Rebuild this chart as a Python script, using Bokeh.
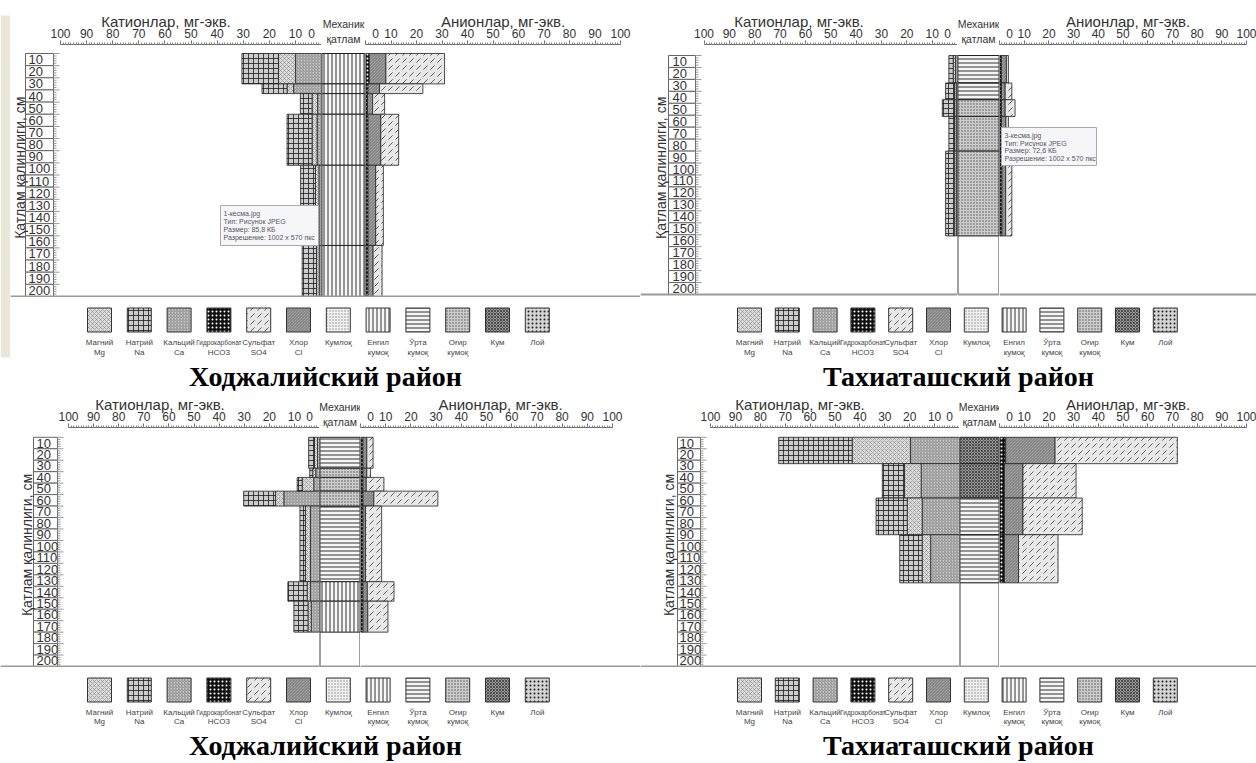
import numpy as np
from bokeh.plotting import figure
from bokeh.models import (Range1d, SingleIntervalTicker, FixedTicker, Span,
                          BoxAnnotation, Label, ColumnDataSource)
from bokeh.layouts import row, column
from bokeh.embed import file_html
from bokeh.resources import INLINE
from bokeh.core.properties import value

# ---------------- data ----------------
titles = ["Ходжалийский район", "Тахиаташский район",
          "Ходжалийский район", "Тахиаташский район"]

legend_keys = ["Mg", "Na", "Ca", "HCO3", "SO4", "Cl",
               "Кумлоқ", "Енгил қумоқ", "Ўрта қумоқ", "Оғир қумоқ", "Кум", "Лой"]
legend_line1 = ["Магний", "Натрий", "Кальций", "Гидрокарбонат", "Сульфат", "Хлор",
                "Кумлоқ", "Енгил", "Ўрта", "Оғир", "Кум", "Лой"]
legend_line2 = ["Mg", "Na", "Ca", "HCO3", "SO4", "Cl",
                "", "кумоқ", "кумоқ", "кумоқ", "", ""]

depth_ticks = list(range(10, 201, 10))
y_title = "Қатлам қалинлиги, см"
cation_title = "Катионлар, мг-экв."
anion_title = "Анионлар, мг-экв."
mech_title = "Механик\nқатлам"

# panel 1 (top-left)
p1_top = [0, 25, 33, 50, 92, 158]
p1_bot = [25, 33, 50, 92, 158, 200]
p1_ca = [10.0, 10.7, 1.5, 1.7, 1.0, 0.9]
p1_mg = [6.5, 2.5, 2.1, 1.9, 1.3, 1.0]
p1_na = [14.0, 9.6, 4.5, 9.6, 5.7, 5.5]
p1_hco3 = [1.5, 1.0, 0.8, 1.0, 1.0, 1.0]
p1_cl = [6.5, 4.5, 2.0, 5.0, 3.0, 2.0]
p1_so4 = [23.0, 17.0, 4.7, 7.0, 3.0, 3.5]
p1_mech = ["Енгил қумоқ"] * 6

# panel 2 (top-right)
p2_top = [0, 23, 37, 51, 80]
p2_bot = [23, 37, 51, 80, 151]
p2_ca = [0.8, 0.5, 0.5, 0.5, 0.5]
p2_mg = [0.9, 0.7, 0.7, 0.7, 0.8]
p2_na = [1.7, 3.5, 4.8, 2.2, 3.4]
p2_hco3 = [0.8, 0.8, 0.8, 0.8, 1.0]
p2_cl = [2.0, 1.5, 1.5, 1.8, 1.5]
p2_so4 = [0.8, 2.7, 4.0, 1.0, 2.5]
p2_mech = ["Ўрта қумоқ", "Ўрта қумоқ", "Оғир қумоқ", "Оғир қумоқ", "Оғир қумоқ"]

# panel 3 (bottom-left)
p3_top = [0, 27, 35, 47, 60, 126, 143]
p3_bot = [27, 35, 47, 60, 126, 143, 170]
p3_ca = [0.8, 1.5, 2.3, 14.2, 3.6, 3.6, 3.3]
p3_mg = [1.2, 1.2, 4.6, 3.3, 2.0, 1.3, 1.3]
p3_na = [2.3, 1.2, 2.0, 12.7, 2.2, 7.7, 5.6]
p3_hco3 = [1.0, 1.0, 1.0, 1.0, 1.0, 1.0, 1.0]
p3_cl = [1.5, 1.5, 1.3, 4.3, 1.0, 1.7, 1.9]
p3_so4 = [2.5, 1.5, 7.0, 25.4, 6.4, 10.6, 8.0]
p3_mech = ["Ўрта қумоқ", "Оғир қумоқ", "Оғир қумоқ", "Оғир қумоқ",
           "Ўрта қумоқ", "Енгил қумоқ", "Енгил қумоқ"]

# panel 4 (bottom-right)
p4_top = [0, 23, 53, 85]
p4_bot = [23, 53, 85, 127]
p4_ca = [19.7, 15.4, 15.0, 11.6]
p4_mg = [23.4, 6.7, 6.0, 3.4]
p4_na = [29.5, 8.9, 12.5, 9.0]
p4_hco3 = [2.5, 2.0, 2.0, 2.0]
p4_cl = [20.0, 7.5, 7.5, 5.7]
p4_so4 = [49.5, 21.5, 24.0, 16.0]
p4_mech = ["Кум", "Кум", "Ўрта қумоқ", "Ўрта қумоқ"]

tip1_lines = ["1-кесма.jpg", "Тип: Рисунок JPEG", "Размер: 85,8 КБ",
              "Разрешение: 1002 x 570 пкс"]
tip2_lines = ["3-кесма.jpg", "Тип: Рисунок JPEG", "Размер: 72,6 КБ",
              "Разрешение: 1002 x 570 пкс"]

# ---------------- styles ----------------
FONT = "Liberation Sans"
SERIF = "Liberation Serif"
STYLE = {
    "Mg": ("#dcdcdc", "diagonal_cross", "#777777", 4, 0.5),
    "Na": ("#cccccc", "cross", "#1a1a1a", 5, 0.8),
    "Ca": ("#c8c8c8", "right_diagonal_line", "#666666", 3, 0.6),
    "HCO3": ("#111111", "dot", "#ffffff", 4, 2.2),
    "SO4": ("#e8e8e8", "right_diagonal_dash", "#3a3a3a", 7, 0.8),
    "Cl": ("#b8b8b8", "left_diagonal_line", "#5a5a5a", 3, 0.7),
    "Кумлоқ": ("#f0f0f0", "dot", "#8a8a8a", 3, 1.0),
    "Енгил қумоқ": ("#f7f7f7", "vertical_line", "#1a1a1a", 4, 0.9),
    "Ўрта қумоқ": ("#f5f5f5", "horizontal_line", "#1a1a1a", 4, 0.9),
    "Оғир қумоқ": ("#cccccc", "dot", "#555555", 3, 1.0),
    "Кум": ("#9a9a9a", "diagonal_cross", "#2a2a2a", 3, 0.7),
    "Лой": ("#d4d4d4", "dot", "#222222", 4, 1.2),
}

def hatch_kw(key):
    f, hp, hc, hs, hw = STYLE[key]
    return dict(fill_color=f, hatch_pattern=hp, hatch_color=hc,
                hatch_scale=hs, hatch_weight=hw)

# geometry in window pixels
GEO = [
    dict(left=10, c100=60, c0=321, a0=365, a100=620, right=640,
         fig_top=0, frame_top=44, d0=53, d200=296, frame_bot=297, leg_bot=392,
         box_l=25, box_r=53, text_x=28, title_x=19, strip=True,
         leg_x0=99, leg_dx=39.8, sq_y=319.5, lab1=342, lab2=352, ttl_x=325, ttl_y=376,
         tip=(220, 318, 205, 245)),
    dict(left=640, c100=703.5, c0=957, a0=999, a100=1246, right=1256,
         fig_top=0, frame_top=44, d0=55, d200=294, frame_bot=297, leg_bot=392,
         box_l=668, box_r=695, text_x=672, title_x=660, strip=False,
         leg_x0=749, leg_dx=37.8, sq_y=319.5, lab1=342, lab2=352, ttl_x=958, ttl_y=376,
         tip=(1001, 1096, 127, 165)),
    dict(left=0, c100=68, c0=319, a0=360, a100=612, right=640,
         fig_top=392, frame_top=422, d0=432, d200=666, frame_bot=667, leg_bot=763,
         box_l=33, box_r=57, text_x=36, title_x=26, strip=False,
         leg_x0=99, leg_dx=39.8, sq_y=689.5, lab1=712, lab2=721, ttl_x=325, ttl_y=745,
         tip=None),
    dict(left=640, c100=710, c0=959, a0=999, a100=1246, right=1256,
         fig_top=392, frame_top=422, d0=432, d200=666, frame_bot=667, leg_bot=763,
         box_l=677, box_r=700, text_x=679, title_x=668, strip=False,
         leg_x0=749, leg_dx=37.8, sq_y=689.5, lab1=712, lab2=721, ttl_x=958, ttl_y=745,
         tip=None),
]


def base_fig(width, height, x_range, y_range, top_border, axis_above):
    p = figure(width=width, height=height, x_range=x_range, y_range=y_range,
               toolbar_location=None, output_backend="svg",
               x_axis_location="above" if axis_above else None,
               y_axis_location=None,
               min_border_left=0, min_border_right=0, min_border_bottom=0,
               min_border_top=top_border, outline_line_color=None,
               background_fill_color="white", border_fill_color="white")
    p.grid.grid_line_color = None
    return p


def ruler_axis(ax, title, overrides):
    ax.ticker = SingleIntervalTicker(interval=10, num_minor_ticks=10)
    ax.bounds = (0, 100)
    ax.major_tick_out = 4
    ax.major_tick_in = 0
    ax.minor_tick_out = 2
    ax.minor_tick_in = 0
    ax.axis_line_color = "#666666"
    ax.major_tick_line_color = "#666666"
    ax.minor_tick_line_color = "#888888"
    ax.major_label_text_font = FONT
    ax.major_label_text_font_size = "12px"
    ax.major_label_text_color = "#333333"
    ax.major_label_standoff = 0
    ax.major_label_overrides = overrides
    ax.axis_label = title
    ax.axis_label_text_font = FONT
    ax.axis_label_text_font_size = "15px"
    ax.axis_label_text_font_style = "normal"
    ax.axis_label_text_color = "#333333"
    ax.axis_label_standoff = -6


def make_panel(data, g, title, tip_lines):
    tops = np.array(data["top"], dtype=float)
    bots = np.array(data["bot"], dtype=float)
    dmax = depth_ticks[-1]
    sy = (g["d200"] - g["d0"]) / dmax
    yr = Range1d(start=dmax + (g["frame_bot"] - g["d200"]) / sy,
                 end=-(g["d0"] - g["frame_top"]) / sy)
    bt = g["frame_top"] - g["fig_top"]
    H = g["frame_bot"] - g["fig_top"]

    # ---- cation side (with the depth-label column at its left) ----
    wc = g["c0"] - g["left"]
    sxc = (g["c0"] - g["c100"]) / 100.0
    ux = lambda px: (g["c0"] - px) / sxc
    pc = base_fig(wc, H, Range1d(start=ux(g["left"]), end=0), yr, bt, True)
    ruler_axis(pc.xaxis[0], cation_title, {0: "0\u00a0\u00a0"})
    tk = np.array(depth_ticks, dtype=float)
    pc.quad(left=ux(g["box_l"]), right=ux(g["box_r"]), top=tk - 10, bottom=tk,
            fill_color="white", line_color="#666666", line_width=1)
    pc.text(x=ux(g["text_x"]), y=tk - 5, text=[str(int(t)) for t in tk],
            text_font=value(FONT), text_font_size="13px", text_color="#333333",
            text_align="left", text_baseline="middle")
    minor = np.arange(0, dmax + 1, 2)
    pc.segment(x0=ux(g["box_r"]), y0=minor,
               x1=ux(g["box_r"] + np.where(minor % 10 == 0, 6, 3)), y1=minor,
               line_color="#999999", line_width=1)
    pc.text(x=[ux(g["title_x"])], y=[dmax * 0.47], text=[y_title], angle=np.pi / 2,
            text_font=value(FONT), text_font_size="14px", text_color="#333333",
            text_align="center", text_baseline="middle")
    inner = np.zeros(len(tops))
    for key in ["Ca", "Mg", "Na"]:
        outer = inner + np.array(data[key])
        pc.quad(left=inner, right=outer, top=tops, bottom=bots,
                line_color="#222222", line_width=0.8, **hatch_kw(key))
        inner = outer
    pc.add_layout(Span(location=dmax, dimension="width", line_color="#999999", line_width=2))

    # ---- mechanical column ----
    wm = g["a0"] - g["c0"]
    pm = base_fig(wm, H, Range1d(0, 1), yr, bt, True)
    axm = pm.xaxis[0]
    axm.ticker = FixedTicker(ticks=[])
    axm.axis_line_color = None
    axm.major_tick_out = 0
    axm.minor_tick_out = 0
    axm.axis_label = mech_title
    axm.axis_label_text_font = FONT
    axm.axis_label_text_font_size = "10.5px"
    axm.axis_label_text_font_style = "normal"
    axm.axis_label_text_color = "#333333"
    axm.axis_label_standoff = 0
    mech = list(data["mech"])
    for key in dict.fromkeys(mech):
        idx = [i for i, m in enumerate(mech) if m == key]
        pm.quad(left=0, right=1, top=tops[idx], bottom=bots[idx],
                line_color="#222222", line_width=1, **hatch_kw(key))
    pm.segment(x0=[0, 1], y0=[0, 0], x1=[0, 1], y1=[dmax, dmax],
               line_color="#444444", line_width=2)
    pm.add_layout(Span(location=dmax, dimension="width", line_color="#999999", line_width=2))

    # ---- anion side ----
    wa = g["right"] - g["a0"]
    sxa = (g["a100"] - g["a0"]) / 100.0
    pa = base_fig(wa, H, Range1d(0, wa / sxa), yr, bt, True)
    ruler_axis(pa.xaxis[0], anion_title, {0: "\u00a0\u00a00"})
    inner = np.zeros(len(tops))
    for key in ["HCO3", "Cl", "SO4"]:
        outer = inner + np.array(data[key])
        pa.quad(left=inner, right=outer, top=tops, bottom=bots,
                line_color="#222222", line_width=0.8, **hatch_kw(key))
        inner = outer
    pa.add_layout(Span(location=dmax, dimension="width", line_color="#999999", line_width=2))

    # ---- tooltip box (screen-capture artefact in the reference) ----
    if tip_lines is not None and g["tip"] is not None:
        x0, x1, y0, y1 = g["tip"]
        if x0 < g["c0"]:
            host, tx = pc, ux
        else:
            host, tx = pa, (lambda x: (x - g["a0"]) / sxa)
        ty = lambda y: (y - g["d0"]) / sy
        host.add_layout(BoxAnnotation(left=tx(x0), right=tx(x1), top=ty(y0), bottom=ty(y1),
                                      fill_color="#f6f6f8", fill_alpha=1.0,
                                      line_color="#a8a8b0", line_width=1, line_alpha=1.0))
        step = (y1 - y0 - 8) / len(tip_lines)
        for i, t in enumerate(tip_lines):
            host.add_layout(Label(x=tx(x0 + 3), y=ty(y0 + 8 + step * i), text=t,
                                  text_font=FONT, text_font_size="7px",
                                  text_color="#555566", text_baseline="middle"))

    # ---- legend + title ----
    W = g["right"] - g["left"]
    LH = g["leg_bot"] - g["frame_bot"]
    pl = figure(width=W, height=LH, x_range=Range1d(g["left"], g["right"]),
                y_range=Range1d(g["leg_bot"], g["frame_bot"]),
                toolbar_location=None, output_backend="svg",
                x_axis_location=None, y_axis_location=None, min_border=0,
                outline_line_color=None, background_fill_color="white",
                border_fill_color="white")
    pl.grid.grid_line_color = None
    cx = g["leg_x0"] + g["leg_dx"] * np.arange(len(legend_keys))
    for i, key in enumerate(legend_keys):
        pl.rect(x=[cx[i]], y=[g["sq_y"]], width=24, height=24,
                line_color="#333333", line_width=1, **hatch_kw(key))
    sizes = ["6.5px" if len(t) > 10 else "8px" for t in legend_line1]
    src = ColumnDataSource(dict(x=cx, y1=[g["lab1"]] * len(cx), y2=[g["lab2"]] * len(cx),
                                t1=legend_line1, t2=legend_line2, fs=sizes))
    pl.text(x="x", y="y1", text="t1", source=src, text_font=value(FONT),
            text_font_size="fs", text_color="#444444",
            text_align="center", text_baseline="middle")
    pl.text(x="x", y="y2", text="t2", source=src, text_font=value(FONT),
            text_font_size="8px", text_color="#444444",
            text_align="center", text_baseline="middle")
    pl.text(x=[g["ttl_x"]], y=[g["ttl_y"]], text=[title], text_font=value(SERIF),
            text_font_style="bold", text_font_size="28px", text_color="black",
            text_align="center", text_baseline="middle")

    body = column(row(pc, pm, pa), pl)
    if g["strip"]:
        hs = g["leg_bot"] - g["fig_top"]
        ps = figure(width=g["left"], height=hs, x_range=Range1d(0, g["left"]),
                    y_range=Range1d(g["leg_bot"], g["fig_top"]),
                    toolbar_location=None, output_backend="svg",
                    x_axis_location=None, y_axis_location=None, min_border=0,
                    outline_line_color=None, background_fill_color="white",
                    border_fill_color="white")
        ps.grid.grid_line_color = None
        ps.quad(left=0, right=g["left"], top=15, bottom=357,
                fill_color="#e9e7d8", line_color=None)
        return row(ps, body)
    return body


datasets = [
    dict(top=p1_top, bot=p1_bot, Ca=p1_ca, Mg=p1_mg, Na=p1_na,
         HCO3=p1_hco3, Cl=p1_cl, SO4=p1_so4, mech=p1_mech),
    dict(top=p2_top, bot=p2_bot, Ca=p2_ca, Mg=p2_mg, Na=p2_na,
         HCO3=p2_hco3, Cl=p2_cl, SO4=p2_so4, mech=p2_mech),
    dict(top=p3_top, bot=p3_bot, Ca=p3_ca, Mg=p3_mg, Na=p3_na,
         HCO3=p3_hco3, Cl=p3_cl, SO4=p3_so4, mech=p3_mech),
    dict(top=p4_top, bot=p4_bot, Ca=p4_ca, Mg=p4_mg, Na=p4_na,
         HCO3=p4_hco3, Cl=p4_cl, SO4=p4_so4, mech=p4_mech),
]
tips = [tip1_lines, tip2_lines, None, None]

panels = [make_panel(datasets[i], GEO[i], titles[i], tips[i]) for i in range(4)]
layout = column(row(panels[0], panels[1]), row(panels[2], panels[3]))

open("out.html", "w").write(file_html(layout, INLINE))
